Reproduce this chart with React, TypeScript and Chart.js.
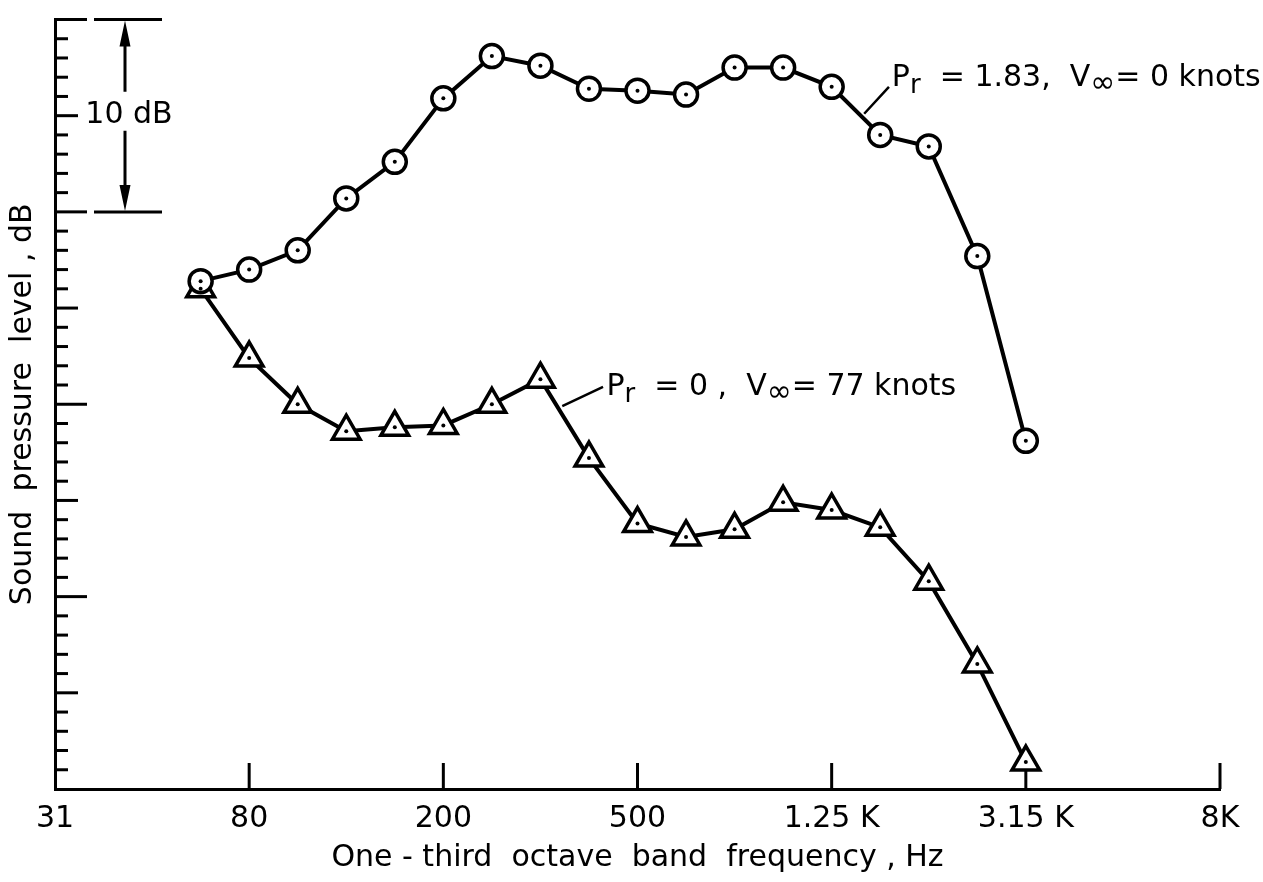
import React, { useEffect, useRef } from "react";
import { Chart, registerables } from "chart.js";

Chart.register(...registerables);

// One-third octave band centre frequencies (Hz) spanning the x axis
const bandLabels = [
  "31.5", "40", "50", "63", "80", "100", "125", "160", "200", "250", "315", "400", "500",
  "630", "800", "1000", "1250", "1600", "2000", "2500", "3150", "4000", "5000", "6300", "8000",
];
// Tick labels shown every fourth band
const xTickLabels = ["31", "80", "200", "500", "1.25 K", "3.15 K", "8K"];
// Bands at which the spectra were measured
const measuredBands = [
  "63", "80", "100", "125", "160", "200", "250", "315", "400",
  "500", "630", "800", "1000", "1250", "1600", "2000", "2500", "3150",
];
// Sound pressure level (relative dB), Pr = 1.83, V∞ = 0 knots (circles)
const splStatic = [
  26.4, 27.0, 28.0, 30.7, 32.6, 35.9, 38.1, 37.6, 36.4,
  36.3, 36.1, 37.5, 37.5, 36.5, 34.0, 33.4, 27.7, 18.1,
];
// Sound pressure level (relative dB), Pr = 0, V∞ = 77 knots (triangles)
const splFlight = [
  26.0, 22.4, 20.0, 18.6, 18.8, 18.9, 20.0, 21.3, 17.2,
  13.8, 13.1, 13.5, 14.9, 14.5, 13.6, 10.8, 6.5, 1.4,
];
const yMin = 0;
const yMax = 40;

const FONT = "'DejaVu Sans', 'Liberation Sans', sans-serif";

type Seg = [string, number];

function drawRich(ctx: CanvasRenderingContext2D, x: number, y: number, segs: Seg[]) {
  let cx = x;
  ctx.textBaseline = "alphabetic";
  ctx.textAlign = "left";
  for (const [t, kind] of segs) {
    const size = kind === 0 ? 30 : kind === 1 ? 26 : 30;
    const dy = kind === 0 ? 0 : kind === 1 ? 7 : 6;
    ctx.font = `${size}px ${FONT}`;
    ctx.fillText(t, cx, y + dy);
    cx += ctx.measureText(t).width;
  }
}

const overlay = {
  id: "overlay",
  beforeDatasetsDraw(chart: any) {
    const { ctx, chartArea } = chart;
    const xs = chart.scales.x;
    const ys = chart.scales.y;
    ctx.save();
    ctx.strokeStyle = "#000";
    ctx.lineWidth = 3;
    // inward y ticks: 1 dB short, 5 dB medium, 10 dB long
    ys.ticks.forEach((t: any) => {
      const v = t.value;
      if (v <= yMin) return;
      const len = v % 10 === 0 ? 32 : v % 5 === 0 ? 23 : 13;
      const py = ys.getPixelForValue(v);
      ctx.beginPath();
      ctx.moveTo(chartArea.left, py);
      ctx.lineTo(chartArea.left + len, py);
      ctx.stroke();
    });
    // inward x ticks
    xs.ticks.forEach((t: any) => {
      if (t.value <= xs.min) return;
      const px = xs.getPixelForValue(t.value);
      ctx.beginPath();
      ctx.moveTo(px, chartArea.bottom);
      ctx.lineTo(px, chartArea.bottom - 26);
      ctx.stroke();
    });
    ctx.restore();
  },
  afterDatasetsDraw(chart: any) {
    const { ctx, chartArea } = chart;
    const xs = chart.scales.x;
    const ys = chart.scales.y;
    ctx.save();
    ctx.strokeStyle = "#000";
    ctx.fillStyle = "#000";

    // 10 dB bracket
    const yTop = ys.getPixelForValue(40);
    const yBot = ys.getPixelForValue(30);
    const L = chartArea.left;
    ctx.lineWidth = 3;
    ctx.beginPath();
    ctx.moveTo(L + 39, yTop);
    ctx.lineTo(L + 107, yTop);
    ctx.moveTo(L + 39, yBot);
    ctx.lineTo(L + 107, yBot);
    ctx.stroke();
    const ax = L + 70;
    const mid = (yTop + yBot) / 2;
    ctx.lineWidth = 3;
    ctx.beginPath();
    ctx.moveTo(ax, yTop + 20);
    ctx.lineTo(ax, mid - 24);
    ctx.moveTo(ax, mid + 15);
    ctx.lineTo(ax, yBot - 20);
    ctx.stroke();
    ctx.beginPath();
    ctx.moveTo(ax, yTop + 1);
    ctx.lineTo(ax - 5.5, yTop + 27);
    ctx.lineTo(ax + 5.5, yTop + 27);
    ctx.closePath();
    ctx.moveTo(ax, yBot - 1);
    ctx.lineTo(ax - 5.5, yBot - 27);
    ctx.lineTo(ax + 5.5, yBot - 27);
    ctx.closePath();
    ctx.fill();
    ctx.font = `30px ${FONT}`;
    ctx.textAlign = "center";
    ctx.textBaseline = "middle";
    ctx.fillText("10 dB", L + 74, mid);

    // leader lines and labels
    ctx.lineWidth = 2.5;
    ctx.beginPath();
    ctx.moveTo(xs.getPixelForValue(16.67), ys.getPixelForValue(35.1));
    ctx.lineTo(xs.getPixelForValue(17.18), ys.getPixelForValue(36.5));
    ctx.moveTo(xs.getPixelForValue(10.45), ys.getPixelForValue(19.9));
    ctx.lineTo(xs.getPixelForValue(11.29), ys.getPixelForValue(20.9));
    ctx.stroke();
    drawRich(ctx, xs.getPixelForValue(17.24), ys.getPixelForValue(36.54), [
      ["P", 0], ["r", 1], ["  = 1.83,  V", 0], ["\u221E", 2], ["= 0 knots", 0],
    ]);
    drawRich(ctx, xs.getPixelForValue(11.36), ys.getPixelForValue(20.47), [
      ["P", 0], ["r", 1], ["  = 0 ,  V", 0], ["\u221E", 2], ["= 77 knots", 0],
    ]);
    ctx.restore();
  },
};

export default function App() {
  const ref = useRef<HTMLCanvasElement | null>(null);

  useEffect(() => {
    if (!ref.current) return;
    const xOf = (b: string) => bandLabels.indexOf(b);
    const staticPts = measuredBands.map((b, i) => ({ x: xOf(b), y: splStatic[i] }));
    const flightPts = measuredBands.map((b, i) => ({ x: xOf(b), y: splFlight[i] }));

    const chart = new Chart(ref.current, {
      type: "line",
      data: {
        datasets: [
          {
            label: "centre dots",
            data: [...staticPts, ...flightPts],
            showLine: false,
            pointStyle: "circle",
            pointRadius: 2,
            pointBackgroundColor: "#000",
            pointBorderWidth: 0,
            order: 0,
          },
          {
            label: "Pr = 1.83, V\u221E = 0 knots",
            data: staticPts,
            borderColor: "#000",
            borderWidth: 4,
            pointStyle: "circle",
            pointRadius: 11.5,
            pointBorderWidth: 3.5,
            pointBorderColor: "#000",
            pointBackgroundColor: "#fff",
            tension: 0,
            order: 1,
          },
          {
            label: "Pr = 0, V\u221E = 77 knots",
            data: flightPts,
            borderColor: "#000",
            borderWidth: 4,
            pointStyle: "triangle",
            pointRadius: 16,
            pointBorderWidth: 3.5,
            pointBorderColor: "#000",
            pointBackgroundColor: "#fff",
            tension: 0,
            order: 2,
          },
        ],
      },
      options: {
        responsive: false,
        animation: false,
        events: [],
        clip: false as any,
        layout: { padding: { left: 0, right: 43, top: 7, bottom: 0 } },
        plugins: { legend: { display: false }, tooltip: { enabled: false } },
        scales: {
          x: {
            type: "linear",
            min: 0,
            max: bandLabels.length - 1,
            grid: { display: false, drawTicks: false },
            border: { display: true, color: "#000", width: 3 },
            ticks: {
              stepSize: 4,
              autoSkip: false,
              maxRotation: 0,
              padding: 12,
              color: "#000",
              font: { family: FONT, size: 30 },
              callback: (v: any) => xTickLabels[Math.round(Number(v) / 4)] ?? "",
            },
            title: {
              display: true,
              text: "One - third  octave  band  frequency , Hz",
              color: "#000",
              font: { family: FONT, size: 30 },
              padding: { top: 0, bottom: 6 },
            },
            afterFit: (s: any) => {
              s.height = 93;
            },
          },
          y: {
            type: "linear",
            min: yMin,
            max: yMax,
            grid: { display: false, drawTicks: false },
            border: { display: true, color: "#000", width: 3 },
            ticks: { display: false, stepSize: 1 },
            title: {
              display: true,
              text: "Sound  pressure  level , dB",
              color: "#000",
              font: { family: FONT, size: 30 },
              padding: { top: 5, bottom: 0 },
            },
            afterFit: (s: any) => {
              s.width = 55;
            },
          },
        },
      },
      plugins: [overlay],
    });
    return () => chart.destroy();
  }, []);

  return (
    <div style={{ position: "absolute", left: 0, top: 0, width: 1263, height: 882, background: "#fff" }}>
      <canvas ref={ref} width={1263} height={882} />
    </div>
  );
}
